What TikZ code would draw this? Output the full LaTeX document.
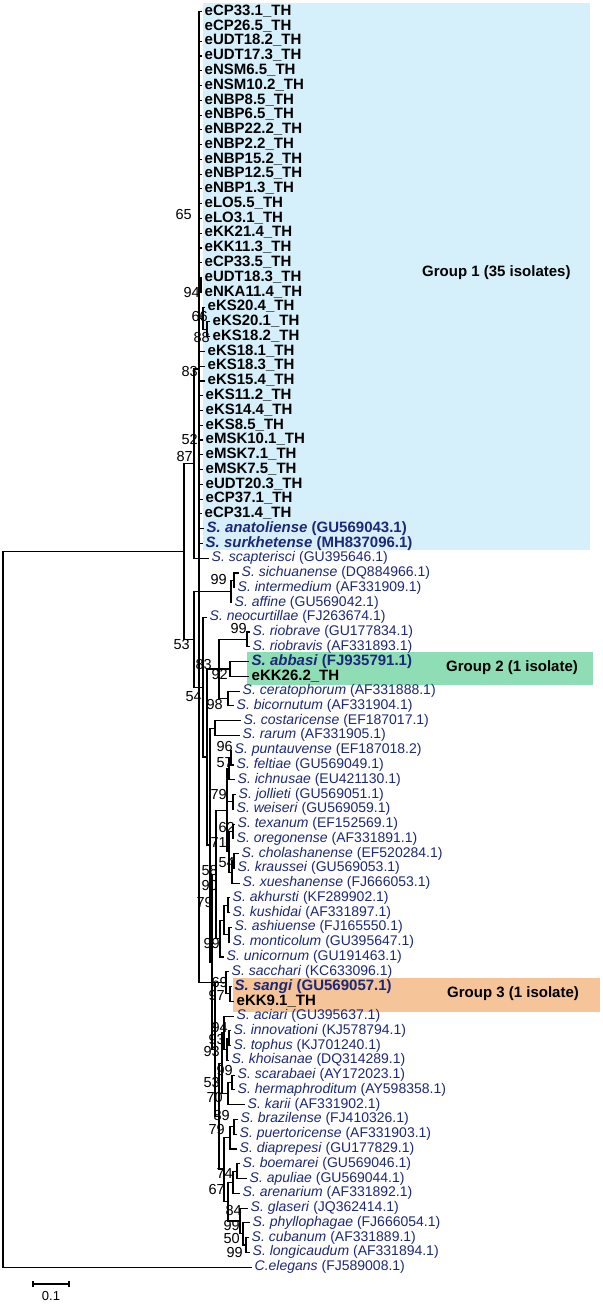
\documentclass[tikz,border=0pt]{standalone}
\usepackage{fontspec}
\setmainfont{Liberation Sans}
\definecolor{navy}{RGB}{28,40,120}
\definecolor{gAbox}{RGB}{214,240,251}
\definecolor{gBbox}{RGB}{142,221,180}
\definecolor{gCbox}{RGB}{245,196,152}
\newcommand\LY[1]{11.7+14.77*(#1)}
\tikzset{
  br/.style={line width=1.1pt, black},
  sp/.style={anchor=west, inner xsep=2.5pt, inner ysep=0pt, text height=10pt, text depth=3pt, font=\fontsize{14}{14}\selectfont, text=navy},
  iso/.style={anchor=west, inner xsep=2.5pt, inner ysep=0pt, text height=10.5pt, text depth=3pt, font=\fontsize{15}{15}\selectfont\bfseries},
  bs/.style={anchor=east, inner sep=0pt, font=\fontsize{14.5}{14.5}\selectfont},
  grp/.style={anchor=west, inner sep=0pt, font=\fontsize{15}{15}\selectfont\bfseries},
  gbox/.style={draw=none, anchor=north west, inner sep=0pt},
}
\begin{document}
\begin{tikzpicture}[x=1pt,y=-1pt]
\useasboundingbox (0,0) rectangle (602,1305);
% group boxes
\node[gbox, fill=gAbox, minimum width=387pt, minimum height=547pt] (boxA) at (203,3) {};
\node[gbox, fill=gBbox, minimum width=346pt, minimum height=33pt] (boxB) at (247,652) {};
\node[gbox, fill=gCbox, minimum width=367pt, minimum height=34pt] (boxC) at (233,978) {};
\node[grp] (gA) at (422,273) {Group 1 (35 isolates)};
\node[grp] (gB) at (446,668) {Group 2 (1 isolate)};
\node[grp] (gC) at (447,994) {Group 3 (1 isolate)};
% group 1 isolates
\foreach \i/\t/\n in {0/202/eCP33.1,1/202/eCP26.5,2/202/eUDT18.2,3/202/eUDT17.3,4/202/eNSM6.5,5/202/eNSM10.2,6/202/eNBP8.5,7/202/eNBP6.5,8/202/eNBP22.2,9/202/eNBP2.2,10/202/eNBP15.2,11/202/eNBP12.5,12/202/eNBP1.3,13/202/eLO5.5,14/202/eLO3.1,15/202/eKK21.4,16/202/eKK11.3,17/202/eCP33.5,18/202/eUDT18.3,19/202/eNKA11.4,20/205/eKS20.4,21/210/eKS20.1,22/210/eKS18.2,23/205/eKS18.1,24/205/eKS18.3,25/205/eKS15.4,26/203/eKS11.2,27/203/eKS14.4,28/203/eKS8.5,29/203/eMSK10.1,30/203/eMSK7.1,31/203/eMSK7.5,32/203/eUDT20.3,33/203/eCP37.1,34/202/eCP31.4}
  \node[iso] (L\i) at (\t,{\LY{\i}}) {\n\_TH};
\node[iso, text=navy] (L35) at (204,{\LY{35}}) {\textit{S. anatoliense} (GU569043.1)};
\node[iso, text=navy] (L36) at (203,{\LY{36}}) {\textit{S. surkhetense} (MH837096.1)};
% species
\foreach \i/\t/\g/\a in {37/209/scapterisci/GU395646.1,38/239/sichuanense/DQ884966.1,39/235/intermedium/AF331909.1,40/232/affine/GU569042.1,41/207/neocurtillae/FJ263674.1,42/250/riobrave/GU177834.1,43/250/riobravis/AF331893.1,46/240/ceratophorum/AF331888.1,47/234/bicornutum/AF331904.1,48/241/costaricense/EF187017.1,49/240/rarum/AF331905.1,50/232/puntauvense/EF187018.2,51/234/feltiae/GU569049.1,52/235/ichnusae/EU421130.1,53/236/jollieti/GU569051.1,54/234/weiseri/GU569059.1,55/235/texanum/EF152569.1,56/234/oregonense/AF331891.1,57/239/cholashanense/EF520284.1,58/235/kraussei/GU569053.1,59/240/xueshanense/FJ666053.1,60/230/akhursti/KF289902.1,61/230/kushidai/AF331897.1,62/232/ashiuense/FJ165550.1,63/230/monticolum/GU395647.1,64/224/unicornum/GU191463.1,65/229/sacchari/KC633096.1,68/234/aciari/GU395637.1,69/231/innovationi/KJ578794.1,70/231/tophus/KJ701240.1,71/229/khoisanae/DQ314289.1,72/235/scarabaei/AY172023.1,73/235/hermaphroditum/AY598358.1,74/245/karii/AF331902.1,75/238/brazilense/FJ410326.1,76/237/puertoricense/AF331903.1,77/237/diaprepesi/GU177829.1,78/240/boemarei/GU569046.1,79/247/apuliae/GU569044.1,80/240/arenarium/AF331892.1,81/248/glaseri/JQ362414.1,82/250/phyllophagae/FJ666054.1,83/249/cubanum/AF331889.1,84/250/longicaudum/AF331894.1}
  \node[sp] (L\i) at (\t,{\LY{\i}}) {\textit{S. \g} (\a)};
\node[iso, text=navy] (L44) at (249,{\LY{44}}) {\textit{S. abbasi} (FJ935791.1)};
\node[iso] (L45) at (249,{\LY{45}}) {eKK26.2\_TH};
\node[iso, text=navy] (L66) at (232,{\LY{66}}) {\textit{S. sangi} (GU569057.1)};
\node[iso] (L67) at (234,{\LY{67}}) {eKK9.1\_TH};
\node[sp] (L85) at (252,{\LY{85}}) {\textit{C.elegans} (FJ589008.1)};
% internal nodes
\foreach \n/\x/\k in {G1/199/24.19, U94/201/18.5, KS2/207/21.5, KS/203/20.75, A87/194/30.6,
  S/234/38.5, T/231/39.25, R/247/42.5, G2/230/44.5, CB/228/46.5, E/219/44.5, CR/215/48.5,
  P1/231/50.5, P2/229/51.25, JW/233/53.5, TO/233/55.5, CK/234/57.5, CKX/232/58.25, N71/229/56.875,
  FC/227/54.0625, AK/228/60.5, AM/229/62.5, AKAM/224/61.5, AKU/220/62.75, FA/216/58.40625,
  SE/230/66.5, L1/226/65.75, IT/229/69.5, ITK/227/70.25, AITK/224/69.125, SH/232/72.5,
  SHK/228/73.25, G53/222/71.1875, BP/234/75.5, BPD/230/76.25, BA/237/78.5, BAA/233/79.25,
  CL/246/83.5, PCL/243/82.75, GL/240/81.875, F5/228/80.5625, F4/224/78.40625, F3/219/74.796875,
  F2/215/70.2734, F1/212/64.34, F/210/56.42, D/207/50.46, C54/203/45.73, B53/194/42.49,
  N1/184/36.545, R0/3/60.77}
  \coordinate (\n) at (\x,{\LY{\k}});
% group 1 branches
\foreach \i in {0,...,17,23,24,...,36} \draw[br] (G1) |- (L\i.west);
\draw[br] (G1) |- (U94); \draw[br] (U94) |- (L18.west); \draw[br] (U94) |- (L19.west);
\draw[br] (G1) |- (KS); \draw[br] (KS) |- (L20.west); \draw[br] (KS) |- (KS2);
\draw[br] (KS2) |- (L21.west); \draw[br] (KS2) |- (L22.west);
% edges parent/child
\foreach \p/\c in {R0/N1, N1/A87, N1/B53, A87/G1, B53/T, B53/C54, T/S, C54/D, D/E, D/F,
  E/R, E/G2, E/CB, F/CR, F/F1, F1/FA, F1/F2, FA/FC, FA/AKU, FC/P2, FC/JW, FC/N71, P2/P1,
  N71/TO, N71/CKX, CKX/CK, AKU/AKAM, AKAM/AK, AKAM/AM, F2/L1, F2/F3, L1/SE, F3/G53, F3/F4,
  G53/AITK, G53/SHK, AITK/ITK, ITK/IT, SHK/SH, F4/BPD, F4/F5, BPD/BP, F5/BAA, F5/GL, BAA/BA,
  GL/PCL, PCL/CL}
  \draw[br] (\p) |- (\c);
\foreach \p/\c in {R0/85, A87/37, S/38, S/39, T/40, C54/41, R/42, R/43, G2/44, G2/45, CB/46, CB/47,
  CR/48, CR/49, P1/50, P1/51, P2/52, JW/53, JW/54, TO/55, TO/56, CK/57, CK/58, CKX/59, AK/60, AK/61,
  AM/62, AM/63, AKU/64, L1/65, SE/66, SE/67, AITK/68, IT/69, IT/70, ITK/71, SH/72, SH/73, SHK/74,
  BP/75, BP/76, BPD/77, BA/78, BA/79, BAA/80, GL/81, PCL/82, CL/83, CL/84}
  \draw[br] (\p) |- (L\c.west);
% bootstrap values
\foreach \v/\x/\y [count=\j] in {65/192/215, 94/200/293, 66/208/317, 88/210/338, 83/198/372, 52/198/440,
  87/193/457, 99/227/580, 53/190/645, 99/247/629, 83/212/665, 92/228/675, 54/202/697, 98/223/705,
  96/233/747, 57/233/763, 79/227/795, 62/235/827, 71/227/843, 54/235/863, 58/218/870, 90/218/885,
  79/213/902, 99/220/943, 69/228/982, 97/225/995, 94/228/1027, 93/225/1039, 93/220/1051, 99/233/1070,
  53/220/1082, 70/223/1097, 89/230/1115, 79/225/1129, 74/233/1173, 67/225/1189, 84/242/1210,
  99/240/1225, 50/240/1238, 99/243/1252}
  \node[bs] (bs\j) at (\x,\y) {\v};
% scale bar
\coordinate (sb1) at (33,1284); \coordinate (sb2) at (69,1284);
\draw[line width=1.1pt] (sb1) -- (sb2);
\draw[line width=1.1pt] ([yshift=-3pt]sb1) -- ([yshift=3pt]sb1);
\draw[line width=1.1pt] ([yshift=-3pt]sb2) -- ([yshift=3pt]sb2);
\node[font=\fontsize{13}{13}\selectfont, inner sep=0pt] (sbl) at (51,1296) {0.1};
\end{tikzpicture}
\end{document}
